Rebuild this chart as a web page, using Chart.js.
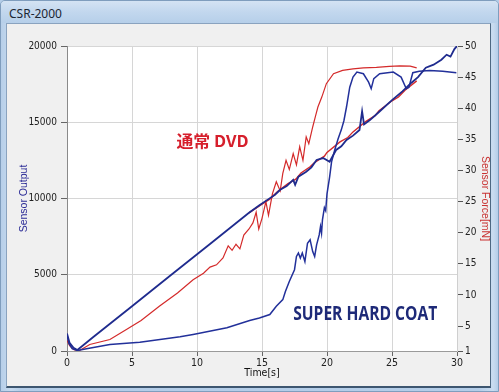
<!DOCTYPE html>
<html>
<head>
<meta charset="utf-8">
<script src="https://cdn.jsdelivr.net/npm/chart.js@4.4.1/dist/chart.umd.min.js"></script>
<style>
    body { margin: 0; width: 499px; height: 392px; overflow: hidden; background: #b4cde8; position: relative; }
    .frame { position: absolute; left: 0; top: 0; width: 497px; height: 390px; border: 1px solid #7f9dbd; border-radius: 5px 5px 0 0; background: linear-gradient(90deg, #b7cfe9 0%, #c6daef 2%, #b4cde8 4%, #b4cde8 96%, #c9dcf0 99%, #b4cde8 100%); }
    .titlebar { position: absolute; left: 1px; top: 1px; width: 497px; height: 22px; background: linear-gradient(180deg, #d4e3f3 0%, #c2d7ee 50%, #b6cfe9 100%); border-radius: 4px 4px 0 0; }
    .titlebar span { position: absolute; left: 8px; top: 4px; font: 12px "Noto Sans", "DejaVu Sans", sans-serif; color: #1b2633; }
    .client { position: absolute; left: 6px; top: 23px; width: 483px; height: 362px; background: #f0f0f0; border: 1px solid #8aa3bf; border-bottom: 2px solid #3d5670; border-right: 1px solid #4d6882; }
    canvas { position: absolute; left: 0; top: 0; }
</style>
</head>
<body>
<div class="frame"></div>
<div class="titlebar"><span>CSR-2000</span></div>
<div class="client"></div>
<canvas id="csrChart" width="499" height="392"></canvas>
<script>
// SUPER HARD COAT - sensor output (left axis)
const shcOutTime = [0, 0.15, 0.4, 0.8, 1.5, 3.3, 5.6, 8.7, 9.7, 12.3, 14.05, 14.8, 15.6, 16.1, 16.6, 16.8, 17.1, 17.5, 17.65, 17.8, 17.95, 18.1, 18.3, 18.5, 18.7, 18.9, 19.05, 19.2, 19.4, 19.5, 19.58, 19.65, 19.8, 19.9, 20.0, 20.2, 20.35, 20.6, 20.85, 21.1, 21.3, 21.5, 21.75, 22.0, 22.3, 22.8, 23.2, 23.4, 23.6, 24.05, 25.1, 25.7, 26.1, 26.3, 26.6, 27.1, 27.9, 28.9, 29.95];
const shcOutput = [1050, 500, 150, 30, 150, 425, 575, 930, 1080, 1520, 2000, 2170, 2390, 2930, 3370, 3900, 4560, 5330, 6200, 6420, 6090, 6420, 5870, 7070, 7290, 6520, 6200, 6960, 7610, 8160, 7730, 8600, 9400, 9200, 10300, 11400, 12400, 13200, 13900, 14500, 15100, 16000, 17300, 17960, 18290, 18180, 17630, 17200, 17860, 18180, 18290, 17960, 17200, 17300, 18250, 18350, 18400, 18350, 18250];

// SUPER HARD COAT - sensor force (right axis)
const shcForceTime = [0, 0.2, 0.5, 0.8, 2, 5, 8, 11, 14, 14.8, 15.5, 16.0, 16.4, 16.9, 17.4, 17.55, 17.8, 18.4, 18.8, 19.2, 19.7, 20.2, 20.7, 21.1, 21.5, 22.0, 22.5, 22.7, 22.85, 23.3, 24, 25, 25.8, 26.5, 27.0, 27.6, 28.2, 28.8, 29.2, 29.5, 29.8, 30];
const shcForce = [3.8, 2.3, 1.5, 1.16, 3.2, 8.2, 13.2, 18.2, 23.2, 24.4, 25.4, 26.1, 26.9, 27.5, 28.5, 27.7, 29.0, 29.8, 30.5, 31.7, 32.0, 31.4, 33.3, 33.9, 34.9, 35.6, 36.5, 39.5, 37.4, 38.1, 39.4, 41.3, 42.7, 44.1, 45.0, 46.5, 47.0, 47.8, 48.6, 48.3, 49.5, 50];

// 通常 DVD - sensor output (left axis)
const dvdOutTime = [0, 0.2, 0.5, 0.9, 1.75, 3.3, 4.57, 5.7, 7.1, 8.5, 9.7, 10.5, 11.0, 11.5, 12.0, 12.4, 12.7, 13.0, 13.3, 13.6, 14.0, 14.3, 14.55, 14.75, 15.0, 15.3, 15.5, 15.8, 16.1, 16.4, 16.6, 16.85, 17.1, 17.4, 17.65, 17.9, 18.15, 18.4, 18.6, 18.9, 19.1, 19.3, 19.6, 19.95, 20.5, 21.2, 22.0, 22.8, 23.8, 24.8, 25.6, 26.4, 26.9];
const dvdOutput = [700, 350, 100, 0, 425, 750, 1405, 2000, 2930, 3800, 4670, 5100, 5500, 5650, 6100, 6900, 6600, 7000, 6700, 7600, 8000, 8400, 9100, 8000, 8700, 9800, 8900, 10300, 11100, 10500, 11650, 12500, 11900, 12950, 12200, 13390, 12500, 14040, 13600, 14690, 15350, 16000, 16650, 17530, 18180, 18400, 18500, 18570, 18600, 18660, 18700, 18680, 18570];

// 通常 DVD - sensor force (right axis), seen only where it leaves the blue ramp
const dvdForceTime = [14, 15, 15.6, 16.2, 17, 17.6, 18, 18.7, 19, 19.8, 20, 21, 21.6, 22, 23, 23.7, 24, 25, 25.5, 26, 26.9];
const dvdForce = [23.2, 24.6, 25.4, 26.6, 27.9, 28.6, 29.6, 30.6, 31.2, 32.3, 32.9, 34.6, 35.3, 36.2, 37.9, 38.8, 39.6, 41.2, 41.8, 42.9, 44.4];

const xTicks = [0, 5, 10, 15, 20, 25, 30];
const forceTicks = [1, 5, 10, 15, 20, 25, 30, 35, 40, 45, 50];

const labelFont = '"DejaVu Sans Condensed", "Liberation Sans Narrow", sans-serif';

function toPoints(times, values) {
    return times.map((t, i) => ({ x: t, y: values[i] }));
}

function plainLabel(value) {
    return String(value);
}

const plotBackground = {
    id: 'plotBackground',
    beforeDraw(chart) {
        const { ctx, chartArea: { left, top, width, height } } = chart;
        ctx.save();
        ctx.fillStyle = '#ffffff';
        ctx.fillRect(left, top, width, height);
        ctx.restore();
    }
};

// squeezes a string into a given width, like the condensed bold labels on the picture
function fitText(ctx, text, x, y, width) {
    const w = ctx.measureText(text).width;
    ctx.save();
    ctx.translate(x, y);
    ctx.scale(width / w, 1);
    ctx.fillText(text, 0, 0);
    ctx.restore();
}

const sampleLabels = {
    id: 'sampleLabels',
    afterDatasetsDraw(chart) {
        const { ctx, scales: { x, y } } = chart;
        ctx.save();
        ctx.textBaseline = 'middle';
        ctx.textAlign = 'left';
        ctx.font = 'bold 16px "Noto Sans CJK JP", sans-serif';
        ctx.fillStyle = '#d61f2c';
        fitText(ctx, '通常 DVD', x.getPixelForValue(8.42), y.getPixelForValue(13750), 72);
        ctx.font = 'bold 20px "Open Sans", "Noto Sans", sans-serif';
        ctx.fillStyle = '#1e2a78';
        fitText(ctx, 'SUPER HARD COAT', x.getPixelForValue(17.4), y.getPixelForValue(2400), 144);
        ctx.restore();
    }
};

const config = {
    type: 'line',
    data: {
        datasets: [
            {
                label: 'SHC force',
                data: toPoints(shcForceTime, shcForce),
                yAxisID: 'y2',
                borderColor: '#1f2b8e',
                borderWidth: 1.8
            },
            {
                label: 'SHC output',
                data: toPoints(shcOutTime, shcOutput),
                yAxisID: 'y',
                borderColor: '#22309a',
                borderWidth: 1.5
            },
            {
                label: 'DVD output',
                data: toPoints(dvdOutTime, dvdOutput),
                yAxisID: 'y',
                borderColor: '#d42a2a',
                borderWidth: 1.2
            },
            {
                label: 'DVD force',
                data: toPoints(dvdForceTime, dvdForce),
                yAxisID: 'y2',
                borderColor: '#d42a2a',
                borderWidth: 1.4
            }
        ]
    },
    options: {
        responsive: false,
        animation: false,
        devicePixelRatio: 1,
        layout: { padding: { top: 46, left: 0, right: 0, bottom: 0 } },
        elements: {
            point: { radius: 0 },
            line: { tension: 0, fill: false }
        },
        plugins: {
            legend: { display: false },
            tooltip: { enabled: false }
        },
        scales: {
            x: {
                type: 'linear',
                min: 0,
                max: 30,
                afterBuildTicks(scale) { scale.ticks = xTicks.map(v => ({ value: v })); },
                afterFit(scale) { scale.height = 41; },
                ticks: { font: { family: labelFont, size: 10.5 }, color: '#222', padding: 1, maxRotation: 0, callback: plainLabel },
                grid: { color: '#d6d6d6', tickColor: '#666', tickLength: 5 },
                border: { color: '#9a9a9a' },
                title: {
                    display: true,
                    text: 'Time[s]',
                    color: '#111',
                    font: { family: labelFont, size: 10.5 },
                    padding: { top: 0, bottom: 12.4 }
                }
            },
            y: {
                position: 'left',
                min: 0,
                max: 20000,
                ticks: { stepSize: 5000, font: { family: labelFont, size: 10 }, color: '#222', padding: 4, callback: plainLabel },
                afterFit(scale) { scale.width = 67; },
                grid: { color: '#d6d6d6', tickColor: '#666', tickLength: 6 },
                border: { color: '#8a8a8a' },
                title: {
                    display: true,
                    text: 'Sensor Output',
                    color: '#2b2b96',
                    font: { family: '"Liberation Sans", sans-serif', size: 10.5 },
                    padding: { top: 18, bottom: 0 }
                }
            },
            y2: {
                position: 'right',
                min: 1,
                max: 50,
                afterBuildTicks(scale) { scale.ticks = forceTicks.map(v => ({ value: v })); },
                afterFit(scale) { scale.width = 42; },
                ticks: { font: { family: labelFont, size: 10 }, color: '#222', padding: 2, callback: plainLabel },
                grid: { drawOnChartArea: false, tickColor: '#555', tickLength: 6 },
                border: { color: '#cfcfcf' },
                title: {
                    display: true,
                    text: 'Sensor Force[mN]',
                    color: '#c83232',
                    font: { family: '"Liberation Sans", sans-serif', size: 10.5 },
                    padding: { top: 8, bottom: 0 }
                }
            }
        }
    },
    plugins: [plotBackground, sampleLabels]
};

const csrChart = new Chart(document.getElementById('csrChart'), config);
</script>
</body>
</html>
